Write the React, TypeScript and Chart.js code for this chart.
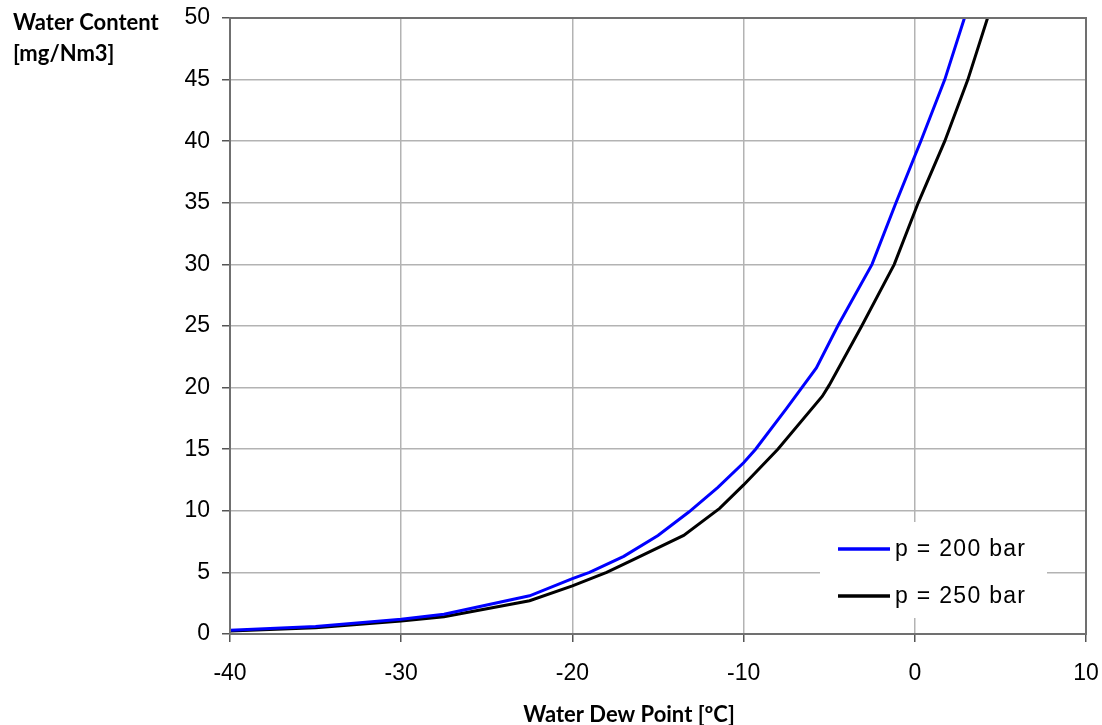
import React, { useEffect, useRef } from "react";
import { Chart, registerables } from "chart.js";

Chart.register(...registerables);

// Water dew point [ºC] vs water content [mg/Nm3]
const dewPoint200 = [-40, -35, -30, -27.5, -22.5, -20, -19, -17, -15, -13.2, -11.5, -10, -9.3, -7.5, -5.75, -4.5, -2.5, -1.1, 0, 0.35, 1.75, 2.9];
const water200 = [0.3, 0.6, 1.2, 1.6, 3.1, 4.5, 5.0, 6.3, 8.0, 9.9, 11.9, 13.9, 15.0, 18.3, 21.6, 25.0, 30.0, 35.0, 38.8, 40.0, 45.0, 50.0];

const dewPoint250 = [-40, -35, -30, -27.5, -22.5, -20, -18, -16.5, -13.5, -11.4, -10, -8, -5.4, -5, -3.1, -1.2, 0.2, 1.75, 3.1, 4.25];
const water250 = [0.25, 0.5, 1.05, 1.4, 2.7, 3.9, 5.0, 6.0, 8.0, 10.2, 12.1, 15.0, 19.3, 20.2, 25.0, 30.0, 35.0, 40.0, 45.0, 50.0];

const seriesLabels = ["p = 200 bar", "p = 250 bar"];
const seriesColors = ["#0000ff", "#000000"];

const xTicks = [-40, -30, -20, -10, 0, 10];
const yTicks = [0, 5, 10, 15, 20, 25, 30, 35, 40, 45, 50];

const xTitle = "Water Dew Point [ºC]";
const yTitleLines = ["Water Content", "[mg/Nm3]"];

const W = 1102;
const H = 725;
const TICK_FONT = "'Liberation Sans', Arial, sans-serif";

export default function App() {
  const ref = useRef<HTMLCanvasElement>(null);

  useEffect(() => {
    document.body.style.margin = "0";
    const canvas = ref.current;
    if (!canvas) return;

    const deco = {
      id: "deco",
      afterDraw(chart: any) {
        const { ctx, chartArea: a } = chart;
        ctx.save();
        // plot frame
        ctx.strokeStyle = "#707070";
        ctx.lineWidth = 2;
        ctx.strokeRect(a.left, a.top, a.right - a.left, a.bottom - a.top);

        // legend
        const lx = a.right - 266;
        const ly = a.bottom - 112;
        ctx.fillStyle = "#ffffff";
        ctx.fillRect(lx, ly, 227, 96);
        chart.data.datasets.forEach((ds: any, i: number) => {
          const y = ly + 27 + i * 47;
          ctx.strokeStyle = ds.borderColor;
          ctx.lineWidth = 3.5;
          ctx.beginPath();
          ctx.moveTo(lx + 18, y);
          ctx.lineTo(lx + 70, y);
          ctx.stroke();
          ctx.fillStyle = "#000";
          ctx.font = `23px ${TICK_FONT}`;
          (ctx as any).letterSpacing = "1.3px";
          ctx.textAlign = "left";
          ctx.textBaseline = "middle";
          ctx.fillText(ds.label, lx + 75, y + 1);
          (ctx as any).letterSpacing = "0px";
        });

        // titles
        ctx.fillStyle = "#000";
        ctx.font = "bold 22px Lato, 'Open Sans', sans-serif";
        ctx.textAlign = "left";
        ctx.textBaseline = "alphabetic";
        ctx.fillText(yTitleLines[0], 13, 30);
        ctx.fillText(yTitleLines[1], 13, 61);
        ctx.textAlign = "center";
        ctx.fillText(xTitle, 629, 722);
        ctx.restore();
      },
    };

    const chart = new Chart(canvas, {
      type: "line",
      data: {
        datasets: [
          {
            label: seriesLabels[0],
            data: dewPoint200.map((x, i) => ({ x, y: water200[i] })),
            borderColor: seriesColors[0],
            borderWidth: 3,
            pointRadius: 0,
            tension: 0,
            fill: false,
          },
          {
            label: seriesLabels[1],
            data: dewPoint250.map((x, i) => ({ x, y: water250[i] })),
            borderColor: seriesColors[1],
            borderWidth: 3,
            pointRadius: 0,
            tension: 0,
            fill: false,
          },
        ],
      },
      plugins: [deco],
      options: {
        responsive: false,
        animation: false,
        devicePixelRatio: 1,
        layout: { padding: { top: 18, right: 16, left: 0, bottom: 0 } },
        plugins: {
          legend: { display: false },
          tooltip: { enabled: false },
          title: { display: false },
        },
        scales: {
          x: {
            type: "linear",
            min: xTicks[0],
            max: xTicks[xTicks.length - 1],
            afterBuildTicks: (s: any) => {
              s.ticks = xTicks.map((v) => ({ value: v }));
            },
            afterFit: (s: any) => {
              s.height = 91;
              s.paddingLeft = 0;
              s.paddingRight = 0;
            },
            grid: {
              color: "#b3b3b3",
              lineWidth: 1.5,
              tickLength: 8,
              tickColor: "#555",
            },
            border: { display: true, color: "#707070", width: 2 },
            ticks: {
              color: "#000",
              padding: 18,
              maxRotation: 0,
              font: { family: TICK_FONT, size: 23 },
            },
          },
          y: {
            type: "linear",
            min: yTicks[0],
            max: yTicks[yTicks.length - 1],
            afterBuildTicks: (s: any) => {
              s.ticks = yTicks.map((v) => ({ value: v }));
            },
            afterFit: (s: any) => {
              s.width = 230;
              s.paddingTop = 0;
              s.paddingBottom = 0;
            },
            grid: {
              color: "#b3b3b3",
              lineWidth: 1.5,
              tickLength: 8,
              tickColor: "#555",
            },
            border: { display: true, color: "#707070", width: 2 },
            ticks: {
              color: "#000",
              padding: 12,
              font: { family: TICK_FONT, size: 23 },
            },
          },
        },
      },
    } as any);

    return () => chart.destroy();
  }, []);

  return (
    <div style={{ width: W, height: H, background: "#fff" }}>
      <canvas ref={ref} width={W} height={H} style={{ display: "block" }} />
    </div>
  );
}
